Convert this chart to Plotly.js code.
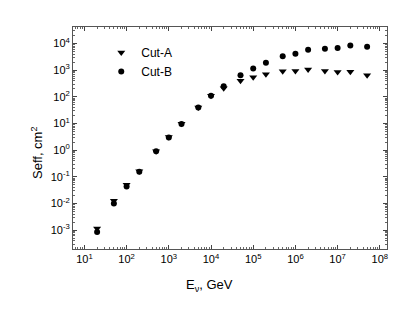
<!DOCTYPE html>
<html>
<head>
<meta charset="utf-8">
<script src="https://cdn.plot.ly/plotly-3.0.1.min.js"></script>
<style>html,body{margin:0;padding:0;background:#fff;}#chart{width:415px;height:319px;}</style>
</head>
<body>
<div id="chart"></div>
<script>
const energies = [20, 50, 100, 200, 500, 1e3, 2e3, 5e3, 1e4, 2e4, 5e4, 1e5, 2e5, 5e5, 1e6, 2e6, 5e6, 1e7, 2e7, 5e7];
const cutA = [1.15e-3, 0.0125, 0.05, 0.16, 0.9, 3.1, 9.7, 40, 110, 210, 400, 540, 700, 920, 940, 1050, 940, 850, 880, 650];
const cutB = [0.85e-3, 0.0100, 0.043, 0.155, 0.9, 3.0, 9.5, 40, 110, 250, 650, 1150, 1900, 3300, 4100, 5800, 6300, 6800, 8500, 7500];
const seriesNames = ["Cut-A", "Cut-B"];
const xTickVals = [1e1, 1e2, 1e3, 1e4, 1e5, 1e6, 1e7, 1e8];
const xTickText = ["10<sup>1</sup>", "10<sup>2</sup>", "10<sup>3</sup>", "10<sup>4</sup>", "10<sup>5</sup>", "10<sup>6</sup>", "10<sup>7</sup>", "10<sup>8</sup>"];
const yTickVals = [1e-3, 1e-2, 1e-1, 1e0, 1e1, 1e2, 1e3, 1e4];
const yTickText = ["10<sup>-3</sup>", "10<sup>-2</sup>", "10<sup>-1</sup>", "10<sup>0</sup>", "10<sup>1</sup>", "10<sup>2</sup>", "10<sup>3</sup>", "10<sup>4</sup>"];
const xTitle = "E<sub>ν</sub>, GeV";
const yTitle = "Seff, cm<sup>2</sup>";

const font = "Liberation Sans, Arial, sans-serif";
const traces = [
  {x: energies, y: cutA, name: seriesNames[0], type: "scatter", mode: "markers",
   marker: {symbol: "triangle-down", size: 7, color: "#000"}},
  {x: energies, y: cutB, name: seriesNames[1], type: "scatter", mode: "markers",
   marker: {symbol: "circle", size: 6, color: "#000"}}
];
const axisCommon = {
  type: "log", tickmode: "array", exponentformat: "power", showgrid: false, zeroline: false,
  showline: true, linecolor: "#555", linewidth: 1, mirror: "allticks",
  ticks: "inside", ticklen: 4, tickcolor: "#444",
  minor: {ticks: "inside", ticklen: 2, tickcolor: "#666", showgrid: false, dtick: "D1"},
  tickfont: {family: font, size: 11, color: "#000"}
};
const layout = {
  width: 415, height: 319,
  margin: {l: 73, r: 28, t: 27, b: 70},
  paper_bgcolor: "#fff", plot_bgcolor: "#fff",
  showlegend: true,
  legend: {x: 0.09, y: 0.95, xanchor: "left", yanchor: "top", bgcolor: "rgba(0,0,0,0)",
           font: {family: font, size: 12, color: "#000"}, itemwidth: 30, tracegroupgap: 0},
  xaxis: Object.assign({}, axisCommon, {range: [0.73, 8.17], tickvals: xTickVals, ticktext: xTickText}),
  yaxis: Object.assign({}, axisCommon, {range: [-3.71, 4.62], tickvals: yTickVals, ticktext: yTickText}),
  annotations: [
    {text: xTitle, xref: "paper", yref: "paper", x: (209 - 73) / 314, y: (249 - 285) / 222,
     xanchor: "center", yanchor: "middle", showarrow: false, font: {family: font, size: 13, color: "#000"}},
    {text: yTitle, xref: "paper", yref: "paper", x: (37 - 73) / 314, y: (249 - 153) / 222,
     xanchor: "center", yanchor: "middle", textangle: -90, showarrow: false, font: {family: font, size: 13, color: "#000"}}
  ]
};
Plotly.newPlot("chart", traces, layout, {displayModeBar: false, staticPlot: true});
</script>
</body>
</html>
